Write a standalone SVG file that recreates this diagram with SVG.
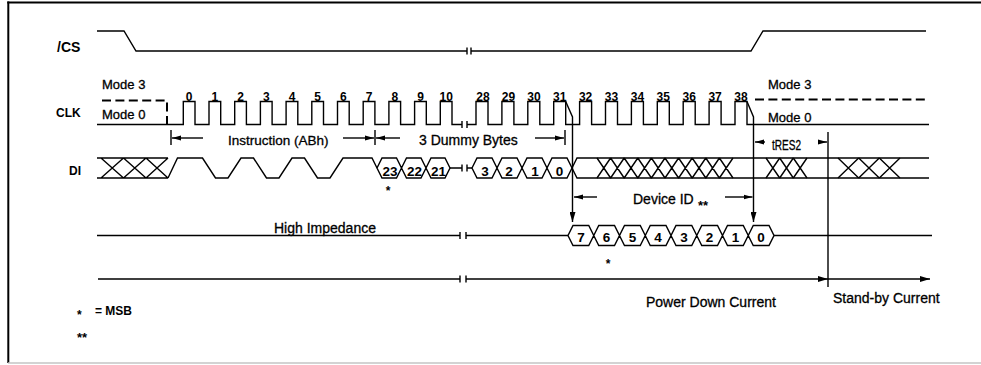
<svg xmlns="http://www.w3.org/2000/svg" width="981" height="365" viewBox="0 0 981 365">
<style>
.s{fill:none;stroke:#000;stroke-width:1.4;stroke-linejoin:miter}
.d{fill:none;stroke:#000;stroke-width:2;stroke-dasharray:9 4.4}
.t{font-family:"Liberation Sans",Arial,sans-serif;fill:#000;stroke:#000;stroke-width:0.3}
.b{font-weight:bold;stroke:none}
.n{font-family:"Liberation Sans",Arial,sans-serif;font-weight:bold;font-size:12px;text-anchor:middle;fill:#000}
.h{font-family:"Liberation Sans",Arial,sans-serif;font-weight:bold;font-size:13.5px;text-anchor:middle;fill:#000}
</style>
<defs>
<marker id="a" markerUnits="userSpaceOnUse" markerWidth="9" markerHeight="6" refX="9" refY="3" orient="auto"><path d="M0,0.5 L9,3 L0,5.5 z" fill="#000"/></marker>
<marker id="a2" markerUnits="userSpaceOnUse" markerWidth="10" markerHeight="6" refX="10" refY="3" orient="auto"><path d="M0,0 L10,3 L0,6 z" fill="#000"/></marker>
</defs>
<rect width="981" height="365" fill="#fff"/>
<g id="frame">
<line x1="7.3" y1="2.5" x2="981" y2="2.5" stroke="#000" stroke-width="2.2"/>
<line x1="8.3" y1="1.5" x2="8.3" y2="363" stroke="#000" stroke-width="2"/>
<line x1="8" y1="363" x2="981" y2="363" stroke="#c4c4c4" stroke-width="1.5"/>
</g>
<g id="cs">
<text class="t b" x="57" y="51.5" font-size="14">/CS</text>
<path class="s" d="M97,31 H124 L136,51 H467 M471,51 H751 L763,31 H926 M467,47.5 V54.5 M471,47.5 V54.5"/>
</g>
<g id="clk">
<text class="t b" x="56" y="117" font-size="12">CLK</text>
<text class="t" x="102" y="89.3" font-size="13">Mode 3</text>
<text class="t" x="102" y="119.3" font-size="13">Mode 0</text>
<text class="t" x="768" y="89" font-size="13">Mode 3</text>
<text class="t" x="768" y="121.5" font-size="13">Mode 0</text>
<path class="d" d="M102,100.5 H167 V124.5"/>
<path class="d" d="M755,99.5 H929"/>
<path class="s" d="M97,124.5 H183.3 V101.5 H195 V124.5 H209 V101.5 H220.7 V124.5 H234.7 V101.5 H246.4 V124.5 H260.4 V101.5 H272.1 V124.5 H286.1 V101.5 H297.8 V124.5 H311.8 V101.5 H323.5 V124.5 H337.5 V101.5 H349.2 V124.5 H363.2 V101.5 H374.9 V124.5 H388.9 V101.5 H400.6 V124.5 H414.6 V101.5 H426.3 V124.5 H440.3 V101.5 H452 V124.5 H462 M462,121 V128 M467,121 V128 M467,124.5 H476 V101.5 H488 V124.5 H501.9 V101.5 H513.9 V124.5 H527.8 V101.5 H539.8 V124.5 H553.7 V101.5 H565.7 V124.5 H579.6 V101.5 H591.6 V124.5 H605.5 V101.5 H617.5 V124.5 H631.4 V101.5 H643.4 V124.5 H657.3 V101.5 H669.3 V124.5 H683.2 V101.5 H695.2 V124.5 H709.1 V101.5 H721.1 V124.5 H735 V101.5 H747 V124.5 H929"/>
<text class="n" x="189.2" y="100.5">0</text>
<text class="n" x="214.9" y="100.5">1</text>
<text class="n" x="240.6" y="100.5">2</text>
<text class="n" x="266.3" y="100.5">3</text>
<text class="n" x="292" y="100.5">4</text>
<text class="n" x="317.7" y="100.5">5</text>
<text class="n" x="343.4" y="100.5">6</text>
<text class="n" x="369.1" y="100.5">7</text>
<text class="n" x="394.8" y="100.5">8</text>
<text class="n" x="420.5" y="100.5">9</text>
<text class="n" x="446.2" y="100.5">10</text>
<text class="n" x="483" y="100.5">28</text>
<text class="n" x="508.4" y="100.5">29</text>
<text class="n" x="534" y="100.5">30</text>
<text class="n" x="559.7" y="100.5">31</text>
<text class="n" x="585.6" y="100.5">32</text>
<text class="n" x="611.5" y="100.5">33</text>
<text class="n" x="637.4" y="100.5">34</text>
<text class="n" x="663.3" y="100.5">35</text>
<text class="n" x="689.2" y="100.5">36</text>
<text class="n" x="715.1" y="100.5">37</text>
<text class="n" x="741" y="100.5">38</text>
</g>
<g id="di">
<text class="t b" x="69" y="175" font-size="12">DI</text>
<path class="s" d="M97,158 H168 M97,178 H168 M101,158 L123.5,178 M101,178 L123.5,158 M123.5,158 L146,178 M123.5,178 L146,158 M146,158 L168,178 M146,178 L168,158"/>
<path class="s" d="M168,178 L177.5,158 H202.5 L215.5,178 H228 L241,158 H253.5 L266.5,178 H279 L292,158 H304.5 L317.5,178 H330 L343,158 H372 L377,168"/>
<path class="s" d="M377,168 L382,158 H396.5 L401.5,168 L396.5,178 H382 Z M401.5,168 L406.5,158 H421 L426,168 L421,178 H406.5 Z M426,168 L431,158 H445 L450,168 L445,178 H431 Z"/>
<path class="s" d="M450,168 H462 M462,164.5 V171.5 M467,164.5 V171.5 M467,168 H472"/>
<path class="s" d="M472,168 L477,158 H492 L497,168 L492,178 H477 Z M497,168 L502,158 H517 L522,168 L517,178 H502 Z M522,168 L527,158 H542 L547,168 L542,178 H527 Z M547,168 L552,158 H567 L572,168 L567,178 H552 Z"/>
<path class="s" d="M572,168 L577,158 H929 M572,168 L577,178 H929"/>
<path class="s" d="M597,158 L610.6,178 M597,178 L610.6,158 M610.6,158 L624.2,178 M610.6,178 L624.2,158 M624.2,158 L637.8,178 M624.2,178 L637.8,158 M637.8,158 L651.4,178 M637.8,178 L651.4,158 M651.4,158 L665,178 M651.4,178 L665,158 M665,158 L678.6,178 M665,178 L678.6,158 M678.6,158 L692.2,178 M678.6,178 L692.2,158 M692.2,158 L705.8,178 M692.2,178 L705.8,158 M705.8,158 L719.4,178 M705.8,178 L719.4,158 M719.4,158 L733,178 M719.4,178 L733,158"/>
<path class="s" d="M766,158 L779.7,178 M766,178 L779.7,158 M779.7,158 L793.3,178 M779.7,178 L793.3,158 M793.3,158 L807,178 M793.3,178 L807,158"/>
<path class="s" d="M838,158 L858.7,178 M838,178 L858.7,158 M858.7,158 L879.3,178 M858.7,178 L879.3,158 M879.3,158 L900,178 M879.3,178 L900,158"/>
<text class="h" x="390" y="176">23</text>
<text class="h" x="414.5" y="176">22</text>
<text class="h" x="438.5" y="176">21</text>
<text class="h" x="485" y="176">3</text>
<text class="h" x="509" y="176">2</text>
<text class="h" x="535" y="176">1</text>
<text class="h" x="559.5" y="176">0</text>
<text class="n" x="388" y="195">*</text>
</g>
<g id="do">
<text class="t" x="274" y="232.5" font-size="14">High Impedance</text>
<path class="s" d="M97,235.5 H460 M460,232 V239 M466,232 V239 M466,235.5 H568 M774,235.5 H932"/>
<path class="s" d="M568,235.5 L573,225.5 H588.75 L593.75,235.5 L588.75,245.5 H573 Z M593.75,235.5 L598.75,225.5 H614.5 L619.5,235.5 L614.5,245.5 H598.75 Z M619.5,235.5 L624.5,225.5 H640.25 L645.25,235.5 L640.25,245.5 H624.5 Z M645.25,235.5 L650.25,225.5 H666 L671,235.5 L666,245.5 H650.25 Z M671,235.5 L676,225.5 H691.75 L696.75,235.5 L691.75,245.5 H676 Z M696.75,235.5 L701.75,225.5 H717.5 L722.5,235.5 L717.5,245.5 H701.75 Z M722.5,235.5 L727.5,225.5 H743.25 L748.25,235.5 L743.25,245.5 H727.5 Z M748.25,235.5 L753.25,225.5 H769 L774,235.5 L769,245.5 H753.25 Z"/>
<text class="h" x="581" y="241.5">7</text>
<text class="h" x="606.6" y="241.5">6</text>
<text class="h" x="632.4" y="241.5">5</text>
<text class="h" x="658.1" y="241.5">4</text>
<text class="h" x="683.9" y="241.5">3</text>
<text class="h" x="709.6" y="241.5">2</text>
<text class="h" x="735.4" y="241.5">1</text>
<text class="h" x="761.1" y="241.5">0</text>
<text class="n" x="608" y="268">*</text>
</g>
<g id="current">
<path class="s" d="M98,279 H460 M460,275.5 V282.5 M466,275.5 V282.5"/>
<path class="s" d="M466,279 H828" marker-end="url(#a2)"/>
<path class="s" d="M828,279 H930" marker-end="url(#a2)"/>
<text class="t" x="646" y="307" font-size="14">Power Down Current</text>
<text class="t" x="833" y="302.5" font-size="14">Stand-by Current</text>
</g>
<g id="connectors">
<path class="s" d="M565.7,101.5 L572.5,117 V222" marker-end="url(#a2)"/>
<path class="s" d="M747,101.5 L753.5,117 V222" marker-end="url(#a2)"/>
<path class="s" d="M828,132 V287"/>
<path class="s" d="M171,130 V145 M375,130 V145 M565,130 V145"/>
<path class="s" d="M203,138 H172" marker-end="url(#a)"/>
<path class="s" d="M343,138 H374" marker-end="url(#a)"/>
<path class="s" d="M400,138 H376" marker-end="url(#a)"/>
<path class="s" d="M535,138 H564" marker-end="url(#a)"/>
<path class="s" d="M597,197 H574" marker-end="url(#a)"/>
<path class="s" d="M725,197 H752.5" marker-end="url(#a)"/>
<path class="s" d="M765,142 H755" marker-end="url(#a)"/>
<path class="s" d="M818,142 H827" marker-end="url(#a)"/>
</g>
<g id="labels">
<text class="t" x="228" y="145" font-size="13.5">Instruction (ABh)</text>
<text class="t" x="419" y="145" font-size="14">3 Dummy Bytes</text>
<text class="t" x="633" y="203.5" font-size="14">Device ID</text>
<text class="t b" x="698" y="209.5" font-size="13">**</text>
<text class="t" x="772" y="150" font-size="14" textLength="29" lengthAdjust="spacingAndGlyphs">tRES2</text>
<text class="n" x="79.3" y="319.4">*</text>
<text class="t b" x="95" y="315" font-size="12">= MSB</text>
<text class="t b" x="77" y="342" font-size="13">**</text>
</g>
</svg>
